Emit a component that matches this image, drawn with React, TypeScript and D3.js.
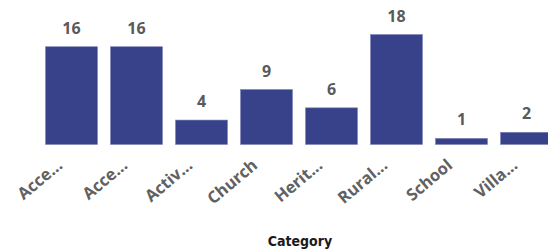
import React, { useEffect, useRef } from "react"
import * as d3 from "d3"

const categories = ["Acce...", "Acce...", "Activ...", "Church", "Herit...", "Rural...", "School", "Villa..."]
const counts = [16, 16, 4, 9, 6, 18, 1, 2]

const W = 548
const H = 252

export default function App() {
    const ref = useRef<SVGSVGElement>(null)

    useEffect(() => {
        const svg = d3.select(ref.current)
        svg.selectAll("*").remove()

        const x = d3.scaleBand<number>()
            .domain(d3.range(categories.length))
            .range([39, 559])
            .paddingInner(0.2)
            .paddingOuter(0.1)

        const y = d3.scaleLinear()
            .domain([0, 18])
            .range([144.5, 34.5])

        const g = svg.append("g")

        g.selectAll("rect")
            .data(counts)
            .enter()
            .append("rect")
            .attr("x", (d, i) => x(i)!)
            .attr("y", d => y(d))
            .attr("width", x.bandwidth())
            .attr("height", d => y(0) - y(d))
            .attr("fill", "#37428A")
            .attr("stroke", "#7d84b8")
            .attr("stroke-width", 0.6)

        // value labels
        g.selectAll("text.val")
            .data(counts)
            .enter()
            .append("text")
            .attr("class", "val")
            .attr("x", (d, i) => x(i)! + x.bandwidth() / 2)
            .attr("y", d => y(d) - 13)
            .attr("text-anchor", "middle")
            .attr("font-family", "Open Sans")
            .attr("font-weight", 700)
            .attr("font-size", 16)
            .attr("fill", "#5a5a5a")
            .text(d => d)

        // category ticks, rotated
        g.selectAll("text.tick")
            .data(categories)
            .enter()
            .append("text")
            .attr("class", "tick")
            .attr("transform", (d, i) => `translate(${x(i)! + x.bandwidth() / 2 - 8},${167}) rotate(-40)`)
            .attr("text-anchor", "end")
            .attr("font-family", "Open Sans")
            .attr("font-weight", 700)
            .attr("font-size", 16.5)
            .attr("fill", "#616161")
            .text(d => d)

        svg.append("text")
            .attr("x", 300)
            .attr("y", 246)
            .attr("text-anchor", "middle")
            .attr("font-family", "DejaVu Sans Condensed")
            .attr("font-weight", 700)
            .attr("font-size", 14)
            .attr("fill", "#1a1a1a")
            .text("Category")
    }, [])

    return (
        <svg ref={ref} width={W} height={H} style={{ position: "absolute", left: 0, top: 0 }} />
    )
}
